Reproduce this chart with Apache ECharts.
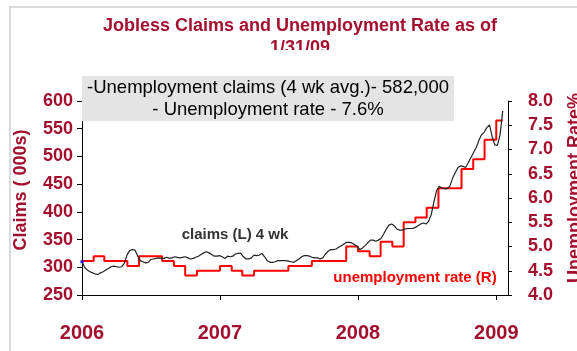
<!DOCTYPE html>
<html>
<head>
<meta charset="utf-8">
<script src="https://cdn.jsdelivr.net/npm/echarts@6/dist/echarts.min.js"></script>
<style>
  html, body { margin: 0; padding: 0; background: #fff; }
  #chart { width: 577px; height: 351px; }
</style>
</head>
<body>
<div id="chart"></div>
<script>
// Weekly initial jobless claims, 4-week moving average (thousands), one value per week
const firstWeek = [2006, 0, 1];
const claims4wk = [
  310, 300, 295, 292, 290, 288, 287, 290, 292, 295,
  298, 301, 302, 301, 300, 301, 307, 322, 330, 332,
  331, 321, 312, 310, 308, 309, 314, 315, 316, 317,
  316, 316, 318, 316, 317, 319, 318, 317, 318, 319,
  317, 315, 316, 318, 320, 323, 326, 328, 326, 323,
  320, 320, 321, 319, 316, 320, 319, 320, 324, 325,
  325, 319, 315, 315, 317, 322, 321, 322, 325, 319,
  312, 309, 309, 310, 312, 312, 312, 312, 311, 310,
  309, 312, 315, 319, 321, 321, 320, 318, 317, 317,
  315, 317, 324, 329, 332, 332, 333, 336, 339, 342,
  345, 345, 344, 341, 337, 332, 335, 339, 344, 349,
  349, 347, 349, 352, 360, 369, 376, 378, 375, 369,
  367, 367, 369, 370, 370, 370, 372, 375, 378, 380,
  378, 383, 395, 418, 438, 446, 443, 442, 442, 446,
  460, 470, 479, 483, 482, 480, 489, 498, 507, 516,
  529, 539, 544, 552, 557, 536, 521, 520, 539, 582
];

// Monthly unemployment rate (%), Jan 2006 - Jan 2009
const firstMonth = [2006, 0];
const unemploymentRate = [
  4.7, 4.8, 4.7, 4.7, 4.6, 4.8, 4.8, 4.7, 4.6, 4.4, 4.5, 4.5,
  4.6, 4.5, 4.4, 4.5, 4.5, 4.5, 4.6, 4.6, 4.7, 4.7, 4.7, 5.0,
  4.9, 4.8, 5.1, 5.0, 5.5, 5.6, 5.8, 6.2, 6.2, 6.6, 6.8, 7.2,
  7.6
];

const yearLabels = ['2006', '2007', '2008', '2009'];
const asOfDate = '1/31/09';

const DARK_RED = '#a30f2e';
const FONT = '"Liberation Sans", Arial, sans-serif';

const weekDate = i => new Date(firstWeek[0], firstWeek[1], firstWeek[2] + 7 * i).getTime();
const monthDate = i => new Date(firstMonth[0], firstMonth[1] + i, 1).getTime();

const claimsData = claims4wk.map((v, i) => [weekDate(i), v]);
const lastClaimDate = weekDate(claims4wk.length - 1);
const lastClaims = claims4wk[claims4wk.length - 1];
const lastRate = unemploymentRate[unemploymentRate.length - 1];

// monthly rate held until the latest weekly observation
const rateData = unemploymentRate.map((v, i) => [monthDate(i), v]);
rateData.push([lastClaimDate, lastRate]);

const yearTicks = yearLabels.map(y => new Date(+y, 0, 1).getTime());

const chart = echarts.init(document.getElementById('chart'), null, { renderer: 'canvas' });

chart.setOption({
  animation: false,
  backgroundColor: '#fff',
  textStyle: { fontFamily: FONT },
  title: {
    text: 'Jobless Claims and Unemployment Rate as of\n' + asOfDate,
    left: 300,
    top: 15,
    padding: 0,
    textAlign: 'center',
    textStyle: {
      color: DARK_RED, fontSize: 18, fontWeight: 'bold',
      lineHeight: 22, fontFamily: FONT
    }
  },
  grid: {
    left: 82, right: 69, top: 101, bottom: 56,
    containLabel: false, outerBoundsMode: 'none'
  },
  xAxis: {
    // time in milliseconds; ticks and labels only at the start of each year
    type: 'value',
    min: new Date(2006, 0, 1).getTime(),
    max: new Date(2009, 1, 1).getTime(),
    axisLine: { show: true, lineStyle: { color: '#000', width: 1 } },
    axisTick: { show: true, customValues: yearTicks, length: 5, lineStyle: { color: '#000' } },
    axisLabel: {
      customValues: yearTicks,
      formatter: v => String(new Date(v).getFullYear()),
      margin: 28,
      color: DARK_RED, fontSize: 20, fontWeight: 'bold', fontFamily: FONT
    },
    splitLine: { show: false }
  },
  yAxis: [
    {
      type: 'value',
      position: 'left',
      min: 250, max: 600, interval: 50,
      name: 'Claims ( 000s)',
      nameLocation: 'middle',
      nameGap: 52,
      nameTextStyle: {
        color: DARK_RED, fontSize: 18, fontWeight: 'bold', fontFamily: FONT,
        padding: [0, 0, 0, 16]
      },
      axisLine: { show: true, lineStyle: { color: '#000', width: 1 } },
      axisTick: { show: true, length: 5, lineStyle: { color: '#000' } },
      axisLabel: { margin: 9, color: DARK_RED, fontSize: 18, fontWeight: 'bold', fontFamily: FONT },
      splitLine: { show: false }
    },
    {
      type: 'value',
      position: 'right',
      min: 4, max: 8, interval: 0.5,
      name: 'Unemployment Rate%',
      nameLocation: 'middle',
      nameGap: 58,
      nameTextStyle: {
        color: DARK_RED, fontSize: 18, fontWeight: 'bold', fontFamily: FONT,
        padding: [0, 0, 0, 20]
      },
      axisLine: { show: true, lineStyle: { color: '#000', width: 1 } },
      axisTick: { show: true, length: 4, lineStyle: { color: '#000' } },
      axisLabel: {
        margin: 20, formatter: v => v.toFixed(1),
        color: DARK_RED, fontSize: 18, fontWeight: 'bold', fontFamily: FONT
      },
      splitLine: { show: false }
    }
  ],
  series: [
    {
      name: 'unemployment rate (R)',
      type: 'line',
      yAxisIndex: 1,
      step: 'end',
      data: rateData,
      symbol: 'none',
      lineStyle: { color: '#ff0000', width: 2 },
      z: 2
    },
    {
      name: 'claims (L) 4 wk',
      type: 'line',
      yAxisIndex: 0,
      data: claimsData,
      symbol: 'none',
      lineStyle: { color: '#222222', width: 1.2 },
      z: 3,
      markPoint: {
        symbol: 'rect',
        symbolSize: 3,
        itemStyle: { color: '#1010ff' },
        label: { show: false },
        data: [{ coord: claimsData[0] }]
      }
    }
  ],
  graphic: [
    {
      type: 'rect', silent: true, z: -10,
      shape: { x: 10, y: 7, width: 700, height: 500 },
      style: { fill: 'none', stroke: '#d0d0d0', lineWidth: 1.5 }
    },
    {
      // lower part of the title's second line is hidden behind the plot frame
      type: 'rect', silent: true, z: 100,
      shape: { x: 250, y: 50, width: 100, height: 16 },
      style: { fill: '#fff' }
    },
    {
      type: 'rect', silent: true, z: 50,
      shape: { x: 82, y: 76, width: 372, height: 45 },
      style: { fill: '#e4e4e4' }
    },
    {
      type: 'text', silent: true, z: 51,
      style: {
        text: '-Unemployment claims (4 wk avg.)- ' + (lastClaims * 1000).toLocaleString('en-US') +
              '\n- Unemployment rate - ' + lastRate.toFixed(1) + '%',
        x: 268, y: 99, align: 'center', verticalAlign: 'middle',
        font: '18.5px ' + FONT, lineHeight: 22, fill: '#000'
      }
    },
    {
      type: 'text', silent: true, z: 51,
      style: {
        text: 'claims (L) 4 wk',
        x: 235, y: 235, align: 'center', verticalAlign: 'middle',
        font: 'bold 15px ' + FONT, fill: '#333'
      }
    },
    {
      type: 'text', silent: true, z: 51,
      style: {
        text: 'unemployment rate (R)',
        x: 415, y: 278, align: 'center', verticalAlign: 'middle',
        font: 'bold 15px ' + FONT, fill: '#ff0000'
      }
    }
  ]
});
</script>
</body>
</html>
